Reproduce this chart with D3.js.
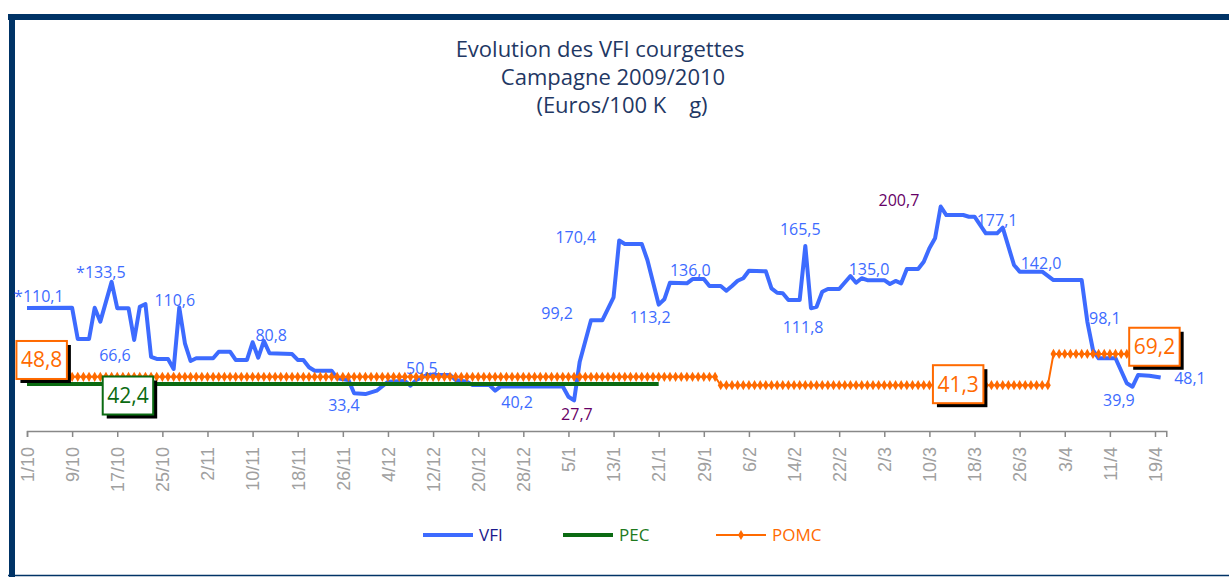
<!DOCTYPE html>
<html>
<head>
<meta charset="utf-8">
<script src="https://cdn.jsdelivr.net/npm/d3@7"></script>
<style>
  body { margin: 0; background: #fff; }
  svg { display: block; }
</style>
</head>
<body>
<div id="chart"></div>
<script>
// x axis tick labels (every 8 days)
var tickLabels = ["1/10","9/10","17/10","25/10","2/11","10/11","18/11","26/11","4/12","12/12","20/12","28/12",
  "5/1","13/1","21/1","29/1","6/2","14/2","22/2","2/3","10/3","18/3","26/3","3/4","11/4","19/4"];

// VFI (daily price, breakpoints)
var vfiDates = ["1/10","9/10","10/10","12/10","13/10","14/10","16/10","17/10","19/10","20/10","21/10","22/10",
  "23/10","24/10","26/10","27/10","28/10","29/10","30/10","31/10","3/11","4/11","6/11","7/11","9/11","10/11",
  "11/11","12/11","13/11","17/11","18/11","19/11","20/11","21/11","24/11","25/11","27/11","28/11","30/11",
  "2/12","4/12","7/12","8/12","9/12","11/12","15/12","16/12","18/12","19/12","22/12","23/12","24/12",
  "4/1","5/1","6/1","7/1","9/1","11/1","13/1","14/1","15/1","18/1","19/1","21/1","22/1","23/1","26/1","27/1",
  "29/1","30/1","1/2","2/2","3/2","4/2","5/2","6/2","9/2","10/2","11/2","12/2","13/2","15/2","16/2","17/2",
  "18/2","19/2","20/2","22/2","24/2","25/2","26/2","27/2","2/3","3/3","4/3","5/3","6/3","8/3","9/3","10/3",
  "11/3","12/3","13/3","16/3","17/3","18/3","20/3","22/3","23/3","25/3","26/3","30/3","1/4","6/4","7/4",
  "8/4","9/4","12/4","14/4","15/4","16/4","18/4","20/4"];
var vfiValues = [110.1,110.3,82.5,82.5,110.4,98.0,133.5,110.0,110.0,81.6,111.3,113.7,
  66.6,64.7,64.7,55.8,110.6,78.7,62.9,65.3,65.3,71.2,71.2,63.8,63.8,79.6,
  65.8,80.8,69.8,69.1,63.8,63.8,57.3,54.2,54.2,47.4,45.9,34.1,33.4,
  36.4,44.4,45.0,40.9,45.9,50.5,50.5,45.9,44.4,41.5,41.5,36.4,40.2,
  40.2,31.0,27.7,62.3,99.2,99.2,119.7,170.4,167.3,167.3,153.0,113.2,117.9,132.7,132.2,136.0,
  136.0,129.8,129.8,125.6,129.8,134.5,136.7,143.4,142.9,127.7,123.8,123.3,117.3,117.3,165.5,110.0,
  111.3,124.7,127.1,127.1,138.7,132.7,136.7,135.0,135.0,131.6,134.3,132.2,145.0,145.0,151.5,163.4,
  172.3,200.7,193.1,193.1,191.6,191.6,176.8,176.8,181.8,148.5,142.6,142.6,135.1,135.1,98.1,
  72.7,65.3,65.3,43.0,39.9,50.4,49.8,48.1];

// PEC (constant over its period)
var pecStart = "1/10", pecEnd = "21/1", pecValue = 42.4;

// POMC (constant by period, one marker per day)
var pomcStarts = ["1/10","1/2","1/4"];
var pomcEnds = ["31/1","31/3","20/4"];
var pomcValues = [48.8, 41.3, 69.2];

// data labels on VFI: text, day offset from 1/10, value position
var labelTexts = ["*110,1","*133,5","66,6","110,6","80,8","33,4","50,5","40,2","27,7","99,2","170,4","113,2",
  "136,0","165,5","111,8","135,0","200,7","177,1","142,0","98,1","39,9","48,1"];
var labelDays = [2.1,13.1,15.6,26.2,43.3,56.2,70,86.9,97.5,94,97.3,110.5,117.6,137.1,137.6,149.3,154.6,172,179.8,191.1,193.6,206.2];
var labelVals = [120.9,142.3,68.2,117.3,86.1,23.6,56.6,26.3,15.6,105.7,173.5,102.1,144.1,180.6,93.2,145,206.5,188.5,150.4,101.1,27.3,47.7];
var labelPurple = ["27,7","200,7"];

// boxed labels: text, day offset, value position, series
var boxTexts = ["48,8","42,4","41,3","69,2"];
var boxDays = [2.6,17.9,165.1,199.9];
var boxVals = [63.8,32.1,42.2,75.6];
var boxSeries = ["POMC","PEC","POMC","POMC"];

var W = 1229, H = 577;
var blue = "#3d6bff", green = "#0b6b12", orange = "#ff6a00", purple = "#660066";

function parseDM(s){
  var p = s.split("/");
  var m = +p[1], d = +p[0];
  return new Date(m >= 10 ? 2009 : 2010, m - 1, d);
}
var t0 = parseDM("1/10");
function dayDate(n){ return new Date(t0.getTime() + n * 864e5); }

var svg = d3.select("#chart").append("svg").attr("width", W).attr("height", H);

// frame
svg.append("rect").attr("x", 8).attr("y", 14).attr("width", W - 8).attr("height", 6).attr("fill", "#003366");
svg.append("rect").attr("x", 9).attr("y", 14).attr("width", 6).attr("height", H - 14).attr("fill", "#003366");
svg.append("line").attr("x1", 8).attr("x2", W).attr("y1", 575.5).attr("y2", 575.5)
  .attr("stroke", "#003366").attr("stroke-width", 1.5);

// title
var title = ["Evolution des VFI courgettes", "Campagne 2009/2010", "(Euros/100 K    g)"];
var titleX = [600, 613, 622], titleY = [57, 85, 113];
svg.selectAll(".title").data(title).enter().append("text")
  .attr("class", "title")
  .attr("x", function(d, i){ return titleX[i]; })
  .attr("y", function(d, i){ return titleY[i]; })
  .attr("text-anchor", "middle")
  .attr("font-family", "Open Sans, sans-serif")
  .attr("font-size", 22)
  .attr("fill", "#1f3864")
  .style("white-space", "pre")
  .text(function(d){ return d; });

var x = d3.scaleTime().domain([t0, parseDM("21/4")]).range([27, 27 + 202 * 5.64]);
var y = d3.scaleLinear().domain([0, 250]).range([431.5, 431.5 - 250 * 1.121]);

// x axis
var tickDates = tickLabels.map(parseDM);
var axis = svg.append("g").attr("transform", "translate(0," + 431 + ")")
  .call(d3.axisBottom(x).tickValues(tickDates).tickSizeOuter(0).tickSize(6)
    .tickFormat(function(d, i){ return tickLabels[i]; }));
axis.select(".domain").attr("stroke", "#888").attr("stroke-width", 1.5);
axis.selectAll(".tick line").attr("stroke", "#888").attr("stroke-width", 1.5);
axis.selectAll(".tick text")
  .attr("transform", "rotate(-90)")
  .attr("x", -16).attr("y", 0).attr("dy", "0.35em")
  .style("text-anchor", "end")
  .attr("font-family", "Liberation Sans, Arial, sans-serif")
  .attr("font-size", 18)
  .attr("fill", "#a0a0a0");

// VFI
var vfi = vfiDates.map(function(d, i){ return {date: parseDM(d), value: vfiValues[i]}; });
var line = d3.line().x(function(d){ return x(d.date); }).y(function(d){ return y(d.value); });
svg.append("path").datum(vfi).attr("d", line)
  .attr("fill", "none").attr("stroke", blue).attr("stroke-width", 4).attr("stroke-linejoin", "round");

// PEC
var pec = [{date: parseDM(pecStart), value: pecValue}, {date: parseDM(pecEnd), value: pecValue}];
svg.append("path").datum(pec).attr("d", line)
  .attr("fill", "none").attr("stroke", green).attr("stroke-width", 4);

// POMC
var pomc = [];
pomcStarts.forEach(function(s, i){
  d3.timeDay.range(parseDM(s), d3.timeDay.offset(parseDM(pomcEnds[i]), 1)).forEach(function(d){
    pomc.push({date: d, value: pomcValues[i]});
  });
});
svg.append("path").datum(pomc).attr("d", line)
  .attr("fill", "none").attr("stroke", orange).attr("stroke-width", 2);
var diamond = d3.symbol().type(d3.symbolDiamond).size(30);
svg.selectAll(".pomc").data(pomc).enter().append("path")
  .attr("class", "pomc")
  .attr("d", diamond)
  .attr("transform", function(d){ return "translate(" + x(d.date) + "," + y(d.value) + ")"; })
  .attr("fill", orange);

// data labels
svg.selectAll(".lbl").data(labelTexts).enter().append("text")
  .attr("class", "lbl")
  .attr("x", function(d, i){ return x(dayDate(labelDays[i])); })
  .attr("y", function(d, i){ return y(labelVals[i]); })
  .attr("dy", "0.35em")
  .attr("text-anchor", "middle")
  .attr("font-family", "Open Sans, sans-serif")
  .attr("font-size", 16)
  .attr("fill", function(d){ return labelPurple.indexOf(d) >= 0 ? purple : blue; })
  .text(function(d){ return d; });

// boxed labels
boxTexts.forEach(function(t, i){
  var cx = x(dayDate(boxDays[i])), cy = y(boxVals[i]);
  var col = boxSeries[i] == "PEC" ? green : orange;
  var g = svg.append("g");
  var shadow = g.append("rect"), box = g.append("rect");
  var txt = g.append("text").attr("x", cx).attr("y", cy).attr("dy", "0.35em")
    .attr("text-anchor", "middle").attr("font-family", "Open Sans, sans-serif")
    .attr("font-size", 21).attr("fill", col).text(t);
  var bw = txt.node().getBBox().width + 9, bh = 38;
  shadow.attr("x", cx - bw / 2 + 4).attr("y", cy - bh / 2 + 4).attr("width", bw).attr("height", bh).attr("fill", "#000");
  box.attr("x", cx - bw / 2).attr("y", cy - bh / 2).attr("width", bw).attr("height", bh)
    .attr("fill", "#fff").attr("stroke", col).attr("stroke-width", 2);
});

// legend
var legNames = ["VFI", "PEC", "POMC"];
var legColors = [blue, green, orange];
var legText = ["#1a1a8c", "#1e7a1e", orange];
var legX = [423, 563, 716];
legNames.forEach(function(n, i){
  var g = svg.append("g").attr("transform", "translate(" + legX[i] + ",535)");
  g.append("line").attr("x1", 0).attr("x2", 50).attr("y1", 0).attr("y2", 0)
    .attr("stroke", legColors[i]).attr("stroke-width", n == "POMC" ? 2 : 4);
  if (n == "POMC") g.append("path").attr("d", diamond).attr("transform", "translate(25,0)").attr("fill", orange);
  g.append("text").attr("x", 56).attr("y", 0).attr("dy", "0.35em")
    .attr("font-family", "Open Sans, sans-serif").attr("font-size", 17)
    .attr("fill", legText[i]).text(n);
});
</script>
</body>
</html>
